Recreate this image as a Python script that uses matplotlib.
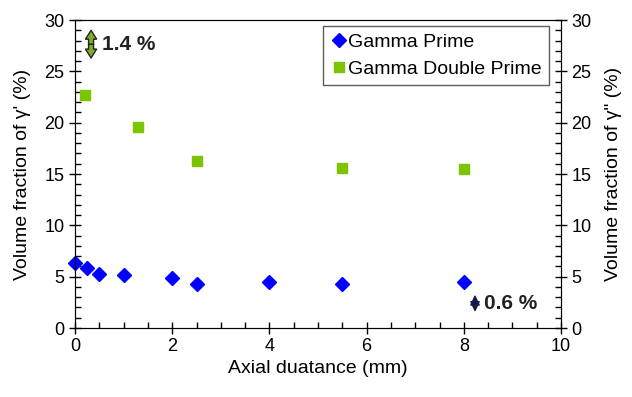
import matplotlib.pyplot as plt
from matplotlib.ticker import MultipleLocator
from matplotlib.patches import FancyArrowPatch

plt.rcParams['font.family'] = ['Liberation Sans', 'DejaVu Sans']

# Datos
dist_prime = [0, 0.25, 0.5, 1, 2, 2.5, 4, 5.5, 8]
vf_prime = [6.35, 5.85, 5.3, 5.15, 4.85, 4.3, 4.45, 4.3, 4.45]

dist_dprime = [0.2, 1.3, 2.5, 5.5, 8]
vf_dprime = [22.7, 19.6, 16.3, 15.6, 15.45]

fig = plt.figure(figsize=(6.32, 3.97), dpi=100)
ax = fig.add_axes([0.1187, 0.1738, 0.769, 0.7758])

ax.plot(dist_prime, vf_prime, 'D', color='#0000ff', ms=7.5, label='Gamma Prime',
        clip_on=False, zorder=5)
ax.plot(dist_dprime, vf_dprime, 's', color='#7dc400', ms=6.5,
        label='Gamma Double Prime', clip_on=False, zorder=5)

ax.set_xlim(0, 10)
ax.set_ylim(0, 30)
ax.xaxis.set_major_locator(MultipleLocator(2))
ax.xaxis.set_minor_locator(MultipleLocator(0.5))
ax.yaxis.set_major_locator(MultipleLocator(5))
ax.yaxis.set_minor_locator(MultipleLocator(1))
ax.tick_params(which='major', direction='inout', length=8, width=1, labelsize=13)
ax.tick_params(which='minor', direction='in', length=4, width=1)
ax.set_xlabel('Axial duatance (mm)', fontsize=14, labelpad=3)
ax.set_ylabel("Volume fraction of γ' (%)", fontsize=14, labelpad=10)
for s in ax.spines.values():
    s.set_color('#333333')

ax2 = ax.twinx()
ax2.set_ylim(0, 30)
ax2.yaxis.set_major_locator(MultipleLocator(5))
ax2.yaxis.set_minor_locator(MultipleLocator(1))
ax2.tick_params(which='major', direction='inout', length=8, width=1, labelsize=13)
ax2.tick_params(which='minor', direction='in', length=4, width=1)
ax2.set_ylabel('Volume fraction of γ" (%)', fontsize=14, labelpad=10)

leg = ax.legend(loc='upper right', bbox_to_anchor=(0.975, 0.98), fontsize=14,
                frameon=True, fancybox=False, handletextpad=0.05,
                handlelength=0.9, borderpad=0.35, labelspacing=0.5,
                borderaxespad=0)
leg.get_frame().set_edgecolor('#333333')
leg.get_frame().set_linewidth(1)

# Flechas de error: dos flechas simples desde el centro
def double_arrow(x, y0, y1, face, edge, hw):
    ym = (y0 + y1) / 2
    for yt in (y0, y1):
        style = 'simple,head_width=%.2f,head_length=0.8,tail_width=0.45' % hw
        a = FancyArrowPatch((x, ym), (x, yt), arrowstyle=style,
                            mutation_scale=8, facecolor=face, edgecolor=edge, lw=1,
                            shrinkA=0, shrinkB=0, clip_on=False, zorder=6)
        ax.add_patch(a)

double_arrow(0.33, 26.3, 29.0, '#7dae2a', '#222222', 1.0)
ax.text(0.56, 27.6, '1.4 %', fontsize=15, fontweight='bold', color='#222222',
        va='center', ha='left')
double_arrow(8.23, 1.7, 3.1, '#1a1a4a', '#1a1a4a', 0.75)
ax.text(8.42, 2.35, '0.6 %', fontsize=15, fontweight='bold', color='#222222',
        va='center', ha='left')

plt.savefig('out.png', dpi=100)
